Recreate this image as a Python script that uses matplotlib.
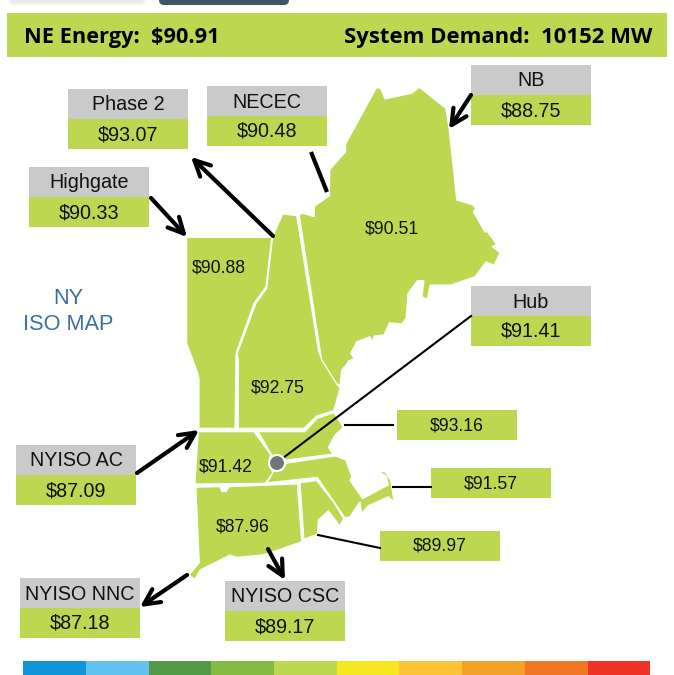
import matplotlib
matplotlib.use("Agg")
import matplotlib.pyplot as plt
from matplotlib.patches import Polygon, Rectangle, Circle, FancyBboxPatch
import numpy as np

plt.rcParams['font.family'] = ['Liberation Sans', 'DejaVu Sans']

GREEN = '#bdd750'
GREY = '#cacaca'

# headline
ne_energy = 90.91
system_demand = 10152

# interface boxes with a name on top
iface_names = ['Phase 2', 'NECEC', 'NB', 'Highgate', 'Hub', 'NYISO AC', 'NYISO NNC', 'NYISO CSC']
iface_prices = [93.07, 90.48, 88.75, 90.33, 91.41, 87.09, 87.18, 89.17]
iface_x = [68, 207, 471, 29, 471, 16, 20, 225]
iface_y = [89, 86, 65, 167, 286, 445, 578, 581]

# boxes that only have a price
zone_box_prices = [93.16, 91.57, 89.97]
zone_box_x = [397, 431, 380]
zone_box_y = [410, 468, 531]

# prices written on the map
map_prices = [90.51, 90.88, 92.75, 91.42, 87.96]
map_x = [392, 219, 278, 226, 243]
map_y = [229, 268, 388, 467, 527]

# colour scale at the bottom
scale_colors = ['#1295d8', '#63c3f0', '#529a46', '#85bb42', '#bdd750',
                '#f5e820', '#ffc337', '#f4a12a', '#f17724', '#ef3327']
scale_edges = [23, 86, 149, 211, 274, 337, 399, 462, 525, 588, 650]

# state outlines, pixels
maine = [(376.7, 87.3), (381, 89), (385, 99), (411.7, 93.3), (419.3, 87.3), (445.7, 108.3),
         (449, 128.3), (456.7, 200), (472.7, 205), (475.7, 208.3), (473.3, 211.7), (485, 232.3),
         (486.7, 231), (496.7, 244.3), (492, 246.7), (500, 252.7), (494, 265), (486, 261.7),
         (475, 276.7), (450.7, 285), (430, 285), (427.3, 299.3), (422, 296.7), (424, 280.7),
         (417.3, 280.7), (408, 293.3), (406, 318.3), (401.7, 324), (389.3, 322.7), (384, 335),
         (374, 336), (372.7, 341.7), (370, 336.7), (356.7, 341.7), (350.7, 353.3), (354, 358.3),
         (348, 361.7), (350, 360), (341.7, 370), (340, 385), (336.7, 384), (321.7, 360),
         (299.3, 215), (302.7, 213.3), (314, 216.7), (314.7, 206), (329.3, 196), (330, 169.3),
         (345.7, 151.7), (345.7, 144)]
new_hampshire = [(282.7, 214), (296.7, 215.7), (318.3, 350), (321.7, 360), (336.7, 384), (340, 388),
                 (335, 406.7), (333.3, 410.7), (316.7, 416), (304, 428.3), (238.3, 428.3), (238.3, 360),
                 (237.3, 353.3), (256, 303.3), (266.7, 288.3), (272.7, 236.7)]
vermont = [(186.7, 237.3), (271.7, 237.3), (266, 286.7), (254, 303.3), (236, 353.3), (235, 428.3),
           (199, 428.3), (199, 378.3), (196.7, 370), (186.7, 343.3)]
west_mass = [(198.3, 431.7), (254, 431.7), (270.7, 455), (269, 460), (272.7, 473.3), (265, 483.3), (195, 484)]
north_mass = [(258.3, 431.7), (305, 431.7), (317.3, 418.3), (334, 412.7), (343.3, 427.3), (335, 435),
              (328.3, 447.3), (332.7, 454), (286.7, 460), (271.7, 455)]
south_mass = [(286, 463.3), (335, 456), (345.7, 460), (351.7, 476.7), (350, 480.7), (362.7, 498.7),
              (388.3, 485), (386.7, 476.7), (378.3, 470.7), (385, 472), (390.7, 480), (394, 501.7),
              (388.3, 496.7), (368.3, 505.7), (361.7, 513.3), (360, 501.7), (350, 516.7), (345, 517.7),
              (317.3, 477.3), (267.3, 482.7), (273.3, 471.7)]
rhode_island = [(300, 482.7), (316.7, 480.7), (334, 502.7), (343.3, 518.3), (340, 526), (328.3, 510.7),
                (318.3, 520), (317.3, 534), (304, 539.3)]
connecticut = [(196, 487.3), (220, 486.7), (221.7, 491.7), (226, 491.7), (229.3, 486.7), (297.3, 484),
               (301.7, 541.7), (268.3, 553.3), (261.7, 555), (236.7, 557.3), (230, 555), (200, 570),
               (195, 579.3), (189.3, 575), (199.3, 562.7)]
states = [maine, new_hampshire, vermont, west_mass, north_mass, south_mass, rhode_island, connecticut]

fig = plt.figure(figsize=(6.74, 6.75), dpi=100)
ax = fig.add_axes([0, 0, 1, 1])
ax.set_xlim(0, 674)
ax.set_ylim(675, 0)
ax.axis('off')

# bits of the page tabs above the chart
ax.add_patch(FancyBboxPatch((9, -12), 136, 16, boxstyle='round,pad=0,rounding_size=5', fc='#e8e9eb', ec='#f3f3f4', lw=1.5))
ax.add_patch(FancyBboxPatch((159, -12), 130, 17, boxstyle='round,pad=0,rounding_size=5', fc='#3f5560', ec='none'))

# header bar
ax.add_patch(Rectangle((7, 13), 660, 44, fc=GREEN, ec='none'))
ax.text(24, 38, 'NE Energy:  $%.2f' % ne_energy, family='Open Sans', weight='bold', fontsize=15.7, va='center')
ax.text(652, 38, 'System Demand:  %d MW' % system_demand, family='Open Sans', weight='bold', fontsize=15.9, va='center', ha='right')

for s in states:
    ax.add_patch(Polygon(s, closed=True, fc=GREEN, ec='white', lw=0.8, joinstyle='miter'))

for p, x, y in zip(map_prices, map_x, map_y):
    ax.text(x, y, '$%.2f' % p, fontsize=12.7, ha='center', va='center', color='#111111')

# arrows
arrows = [((273, 236), (191, 157)), ((151, 198), (187, 237)), ((471, 95), (449, 129)),
          ((137, 473), (199, 430)), ((187, 575), (140, 607)), ((268, 549), (285, 580))]
for a, b in arrows:
    ax.annotate('', xy=b, xytext=a, arrowprops=dict(arrowstyle='->', color='black', lw=3,
                mutation_scale=28, shrinkA=0, shrinkB=0))
ax.plot([311, 327], [152, 192], color='black', lw=3, solid_capstyle='butt')

# thin leader lines
ax.plot([471, 283], [316, 458], color='black', lw=1.5)
ax.plot([345, 393], [425, 425], color='black', lw=1.5)
ax.plot([393, 431], [487, 487], color='black', lw=1.5)
ax.plot([318, 380], [535, 548], color='black', lw=1.5)

ax.add_patch(Circle((277, 463), 8, fc='#757575', ec='white', lw=1.5, zorder=5))

ax.text(68, 298, 'NY', fontsize=15.7, color='#3f6f9f', ha='center', va='center')
ax.text(68, 325, 'ISO MAP', fontsize=15.7, color='#3f6f9f', ha='center', va='center')

# boxes
for name, p, x, y in zip(iface_names, iface_prices, iface_x, iface_y):
    ax.add_patch(Rectangle((x, y), 120, 30, fc=GREY, ec='none'))
    ax.add_patch(Rectangle((x, y + 30), 120, 30, fc=GREEN, ec='none'))
    ax.text(x + 60, y + 16, name, fontsize=14.2, ha='center', va='center', color='#111111')
    ax.text(x + 60, y + 45.5, '$%.2f' % p, fontsize=14.2, ha='center', va='center', color='#111111')

for p, x, y in zip(zone_box_prices, zone_box_x, zone_box_y):
    ax.add_patch(Rectangle((x, y), 120, 30, fc=GREEN, ec='none'))
    ax.text(x + 60, y + 15.5, '$%.2f' % p, fontsize=12.7, ha='center', va='center', color='#111111')

# colour scale
edges = np.array(scale_edges)
ax.bar(edges[:-1], 14, width=np.diff(edges), bottom=661, align='edge', color=scale_colors)

fig.savefig('out.png', dpi=100)
